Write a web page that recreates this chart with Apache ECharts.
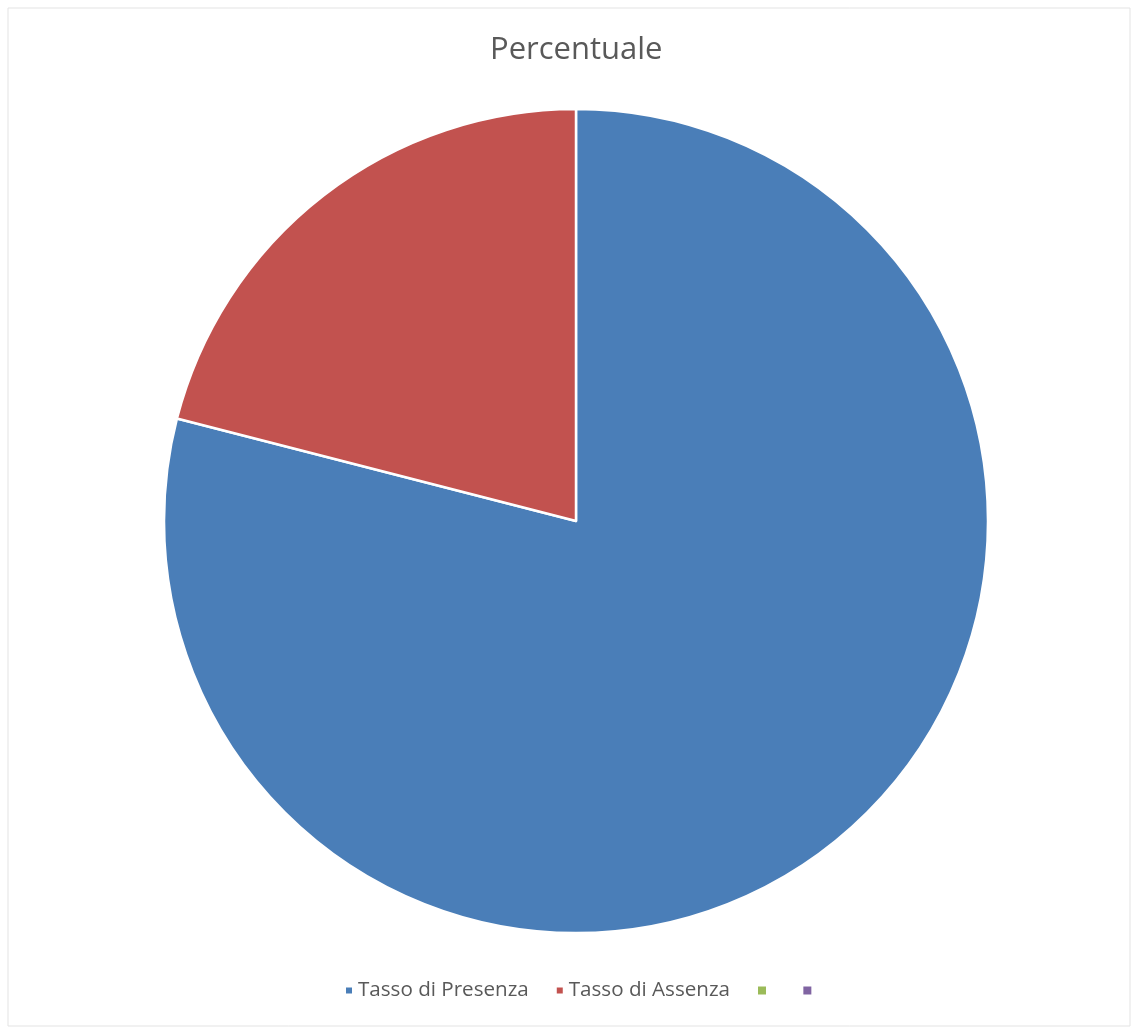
<!DOCTYPE html>
<html>
<head>
<meta charset="utf-8">
<script src="https://cdn.jsdelivr.net/npm/echarts@6/dist/echarts.min.js"></script>
<style>html,body{margin:0;padding:0;background:#fff;}#c{width:1138px;height:1031px;}</style>
</head>
<body>
<div id="c"></div>
<script>
const titleText = 'Percentuale';
const categories = ['Tasso di Presenza', 'Tasso di Assenza', ' ', '  '];
const values = [79, 21, 0, 0];
const colors = ['#4A7EB8', '#C2524F', '#9BBB59', '#8064A2'];

const legendCommon = {
  itemWidth: 8,
  itemHeight: 8,
  icon: 'rect',
  top: 980,
  padding: 0,
  textStyle: { fontFamily: 'Open Sans', fontSize: 20.6, color: '#595959' }
};

const chart = echarts.init(document.getElementById('c'));
chart.setOption({
  animation: false,
  title: {
    text: titleText,
    left: 485,
    top: 30,
    textStyle: { fontFamily: 'Open Sans', fontWeight: 'normal', fontSize: 31, color: '#595959' }
  },
  legend: [
    Object.assign({}, legendCommon, { left: 344, itemGap: 26, data: categories.slice(0, 2) }),
    Object.assign({}, legendCommon, { left: 758, itemGap: 27, data: categories.slice(2) })
  ],
  graphic: [{
    type: 'rect',
    shape: { x: 8, y: 8, width: 1122, height: 1018 },
    style: { fill: 'none', stroke: '#e3e3e3', lineWidth: 1 },
    silent: true
  }],
  series: [{
    type: 'pie',
    center: [576, 521],
    radius: 412,
    startAngle: 90,
    clockwise: true,
    label: { show: false },
    labelLine: { show: false },
    emphasis: { disabled: true },
    data: categories.map((n, i) => ({
      name: n,
      value: values[i],
      itemStyle: { color: colors[i], borderColor: '#fff', borderWidth: values[i] > 0 ? 2.5 : 0 }
    }))
  }]
});
</script>
</body>
</html>
